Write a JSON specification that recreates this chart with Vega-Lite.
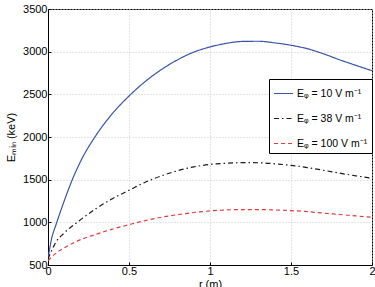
{
  "$schema": "https://vega.github.io/schema/vega-lite/v6.json",
  "width": 324,
  "height": 256,
  "autosize": {"type": "none"},
  "padding": {"left": 48, "top": 9, "right": 3, "bottom": 22},
  "background": "white",
  "config": {
    "font": "Liberation Sans",
    "view": {"stroke": "black", "strokeWidth": 1},
    "axis": {
      "labelFont": "Liberation Sans",
      "titleFont": "Liberation Sans",
      "labelFontSize": 11,
      "titleFontSize": 11,
      "titleFontWeight": "normal",
      "labelColor": "black",
      "titleColor": "black",
      "domainColor": "black",
      "tickColor": "black",
      "tickSize": -3,
      "gridColor": "#c8c8c8",
      "gridDash": [1, 2],
      "gridWidth": 1
    }
  },
  "data": {
    "values": [
      {"r": 0, "E": 570, "s": "Eᵩ = 10 V m⁻¹"},
      {"r": 0.02, "E": 790, "s": "Eᵩ = 10 V m⁻¹"},
      {"r": 0.05, "E": 975, "s": "Eᵩ = 10 V m⁻¹"},
      {"r": 0.1, "E": 1250, "s": "Eᵩ = 10 V m⁻¹"},
      {"r": 0.15, "E": 1500, "s": "Eᵩ = 10 V m⁻¹"},
      {"r": 0.2, "E": 1710, "s": "Eᵩ = 10 V m⁻¹"},
      {"r": 0.3, "E": 2030, "s": "Eᵩ = 10 V m⁻¹"},
      {"r": 0.4, "E": 2280, "s": "Eᵩ = 10 V m⁻¹"},
      {"r": 0.5, "E": 2480, "s": "Eᵩ = 10 V m⁻¹"},
      {"r": 0.6, "E": 2650, "s": "Eᵩ = 10 V m⁻¹"},
      {"r": 0.7, "E": 2790, "s": "Eᵩ = 10 V m⁻¹"},
      {"r": 0.8, "E": 2905, "s": "Eᵩ = 10 V m⁻¹"},
      {"r": 0.9, "E": 2995, "s": "Eᵩ = 10 V m⁻¹"},
      {"r": 1.0, "E": 3055, "s": "Eᵩ = 10 V m⁻¹"},
      {"r": 1.1, "E": 3097, "s": "Eᵩ = 10 V m⁻¹"},
      {"r": 1.2, "E": 3120, "s": "Eᵩ = 10 V m⁻¹"},
      {"r": 1.3, "E": 3122, "s": "Eᵩ = 10 V m⁻¹"},
      {"r": 1.4, "E": 3103, "s": "Eᵩ = 10 V m⁻¹"},
      {"r": 1.5, "E": 3075, "s": "Eᵩ = 10 V m⁻¹"},
      {"r": 1.6, "E": 3035, "s": "Eᵩ = 10 V m⁻¹"},
      {"r": 1.7, "E": 2975, "s": "Eᵩ = 10 V m⁻¹"},
      {"r": 1.8, "E": 2905, "s": "Eᵩ = 10 V m⁻¹"},
      {"r": 1.9, "E": 2840, "s": "Eᵩ = 10 V m⁻¹"},
      {"r": 2.0, "E": 2777, "s": "Eᵩ = 10 V m⁻¹"},

      {"r": 0, "E": 570, "s": "Eᵩ = 38 V m⁻¹"},
      {"r": 0.05, "E": 770, "s": "Eᵩ = 38 V m⁻¹"},
      {"r": 0.1, "E": 875, "s": "Eᵩ = 38 V m⁻¹"},
      {"r": 0.18, "E": 1000, "s": "Eᵩ = 38 V m⁻¹"},
      {"r": 0.3, "E": 1165, "s": "Eᵩ = 38 V m⁻¹"},
      {"r": 0.4, "E": 1280, "s": "Eᵩ = 38 V m⁻¹"},
      {"r": 0.5, "E": 1375, "s": "Eᵩ = 38 V m⁻¹"},
      {"r": 0.6, "E": 1470, "s": "Eᵩ = 38 V m⁻¹"},
      {"r": 0.7, "E": 1545, "s": "Eᵩ = 38 V m⁻¹"},
      {"r": 0.8, "E": 1605, "s": "Eᵩ = 38 V m⁻¹"},
      {"r": 0.9, "E": 1650, "s": "Eᵩ = 38 V m⁻¹"},
      {"r": 1.0, "E": 1678, "s": "Eᵩ = 38 V m⁻¹"},
      {"r": 1.1, "E": 1692, "s": "Eᵩ = 38 V m⁻¹"},
      {"r": 1.2, "E": 1699, "s": "Eᵩ = 38 V m⁻¹"},
      {"r": 1.3, "E": 1698, "s": "Eᵩ = 38 V m⁻¹"},
      {"r": 1.4, "E": 1686, "s": "Eᵩ = 38 V m⁻¹"},
      {"r": 1.5, "E": 1668, "s": "Eᵩ = 38 V m⁻¹"},
      {"r": 1.6, "E": 1642, "s": "Eᵩ = 38 V m⁻¹"},
      {"r": 1.7, "E": 1610, "s": "Eᵩ = 38 V m⁻¹"},
      {"r": 1.8, "E": 1576, "s": "Eᵩ = 38 V m⁻¹"},
      {"r": 1.9, "E": 1545, "s": "Eᵩ = 38 V m⁻¹"},
      {"r": 2.0, "E": 1516, "s": "Eᵩ = 38 V m⁻¹"},

      {"r": 0, "E": 550, "s": "Eᵩ = 100 V m⁻¹"},
      {"r": 0.05, "E": 640, "s": "Eᵩ = 100 V m⁻¹"},
      {"r": 0.1, "E": 700, "s": "Eᵩ = 100 V m⁻¹"},
      {"r": 0.18, "E": 780, "s": "Eᵩ = 100 V m⁻¹"},
      {"r": 0.3, "E": 862, "s": "Eᵩ = 100 V m⁻¹"},
      {"r": 0.4, "E": 922, "s": "Eᵩ = 100 V m⁻¹"},
      {"r": 0.5, "E": 972, "s": "Eᵩ = 100 V m⁻¹"},
      {"r": 0.6, "E": 1020, "s": "Eᵩ = 100 V m⁻¹"},
      {"r": 0.7, "E": 1060, "s": "Eᵩ = 100 V m⁻¹"},
      {"r": 0.8, "E": 1090, "s": "Eᵩ = 100 V m⁻¹"},
      {"r": 0.9, "E": 1115, "s": "Eᵩ = 100 V m⁻¹"},
      {"r": 1.0, "E": 1134, "s": "Eᵩ = 100 V m⁻¹"},
      {"r": 1.1, "E": 1145, "s": "Eᵩ = 100 V m⁻¹"},
      {"r": 1.2, "E": 1150, "s": "Eᵩ = 100 V m⁻¹"},
      {"r": 1.3, "E": 1150, "s": "Eᵩ = 100 V m⁻¹"},
      {"r": 1.4, "E": 1145, "s": "Eᵩ = 100 V m⁻¹"},
      {"r": 1.5, "E": 1137, "s": "Eᵩ = 100 V m⁻¹"},
      {"r": 1.6, "E": 1125, "s": "Eᵩ = 100 V m⁻¹"},
      {"r": 1.7, "E": 1108, "s": "Eᵩ = 100 V m⁻¹"},
      {"r": 1.8, "E": 1092, "s": "Eᵩ = 100 V m⁻¹"},
      {"r": 1.9, "E": 1075, "s": "Eᵩ = 100 V m⁻¹"},
      {"r": 2.0, "E": 1059, "s": "Eᵩ = 100 V m⁻¹"}
    ]
  },
  "mark": {"type": "line", "interpolate": "monotone", "strokeWidth": 1.2, "clip": true},
  "encoding": {
    "x": {
      "field": "r", "type": "quantitative",
      "scale": {"domain": [0, 2], "nice": false, "zero": false},
      "axis": {"values": [0, 0.5, 1, 1.5, 2], "format": "~g", "title": "r (m)", "labelPadding": 3, "titlePadding": 2, "labelFlush": false}
    },
    "y": {
      "field": "E", "type": "quantitative",
      "scale": {"domain": [500, 3500], "nice": false, "zero": false},
      "axis": {"values": [500, 1000, 1500, 2000, 2500, 3000, 3500], "format": "d", "title": "Eₘᵢₙ (keV)", "labelPadding": 4, "titlePadding": 6}
    },
    "color": {
      "field": "s", "type": "nominal",
      "scale": {"domain": ["Eᵩ = 10 V m⁻¹", "Eᵩ = 38 V m⁻¹", "Eᵩ = 100 V m⁻¹"], "range": ["#3a55a6", "#1a1a1a", "#e03c3c"]},
      "legend": {
        "title": null, "orient": "none", "legendX": 221, "legendY": 70,
        "strokeColor": "black", "fillColor": "white", "padding": 4,
        "symbolType": "stroke", "symbolSize": 361, "symbolStrokeWidth": 1.2,
        "labelFontSize": 10.5, "labelFont": "Liberation Sans", "labelColor": "black",
        "labelOffset": 3, "rowPadding": 9
      }
    },
    "strokeDash": {
      "field": "s", "type": "nominal",
      "scale": {"domain": ["Eᵩ = 10 V m⁻¹", "Eᵩ = 38 V m⁻¹", "Eᵩ = 100 V m⁻¹"], "range": [[1, 0], [5, 3, 1.5, 3], [4, 3]]},
      "legend": null
    }
  }
}
